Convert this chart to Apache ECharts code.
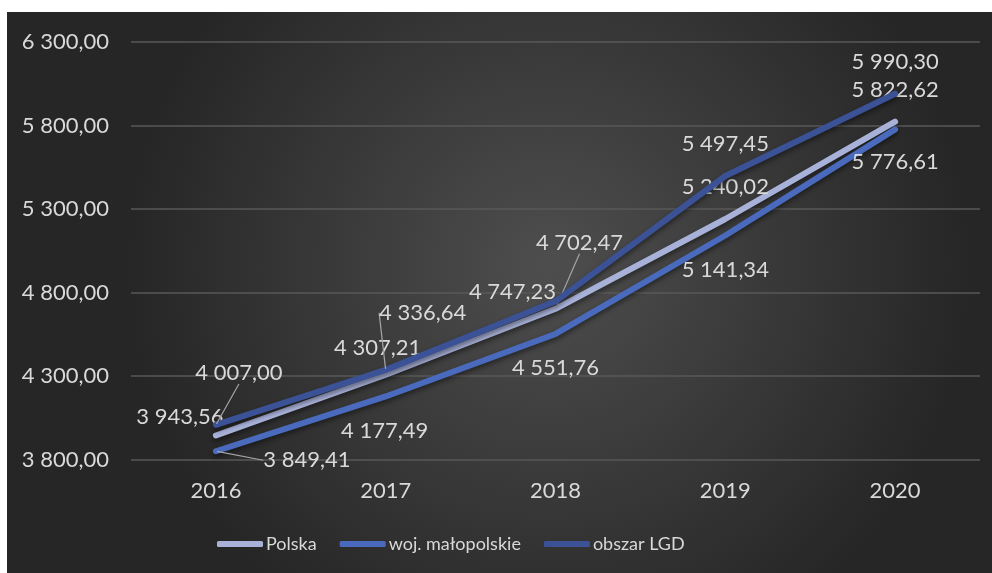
<!DOCTYPE html>
<html>
<head>
<meta charset="utf-8">
<script src="https://cdn.jsdelivr.net/npm/echarts@6/dist/echarts.min.js"></script>
<style>
html,body{margin:0;padding:0;background:#ffffff;width:992px;height:573px;overflow:hidden;}
#chart{position:absolute;left:7px;top:12px;width:985px;height:561px;}
</style>
</head>
<body>
<div id="chart"></div>
<script>
const categories = ['2016', '2017', '2018', '2019', '2020'];
const seriesNames = ['Polska', 'woj. małopolskie', 'obszar LGD'];
const polska = [3943.56, 4307.21, 4702.47, 5240.02, 5822.62];
const malopolskie = [3849.41, 4177.49, 4551.76, 5141.34, 5776.61];
const obszarLGD = [4007.00, 4336.64, 4747.23, 5497.45, 5990.30];
const yTicks = [3800, 4300, 4800, 5300, 5800, 6300];

// label offsets (px) relative to the point, per series
const labelOffsets = [
  [[-36, -19], [-8, -27], [24, -66], [0, -32], [0, -32]],
  [[91, 9], [-1, 34], [0, 34], [0, 34], [0, 33]],
  [[23, -52], [37, -57], [-43, -9], [0, -32], [0, -32]]
];
const leaders = [
  [false, false, true, false, false],
  [true, false, false, false, false],
  [true, true, false, false, false]
];
const colors = ['#a8b1d8', '#4a6bbd', '#3b5296'];

function fmt(v) {
  const parts = v.toFixed(2).split('.');
  const intPart = parts[0].replace(/\B(?=(\d{3})+(?!\d))/g, ' ');
  return intPart + ',' + parts[1];
}

const font = 'Lato';
const textColor = '#d9d9d9';

const allData = [polska, malopolskie, obszarLGD];
const series = allData.map((arr, si) => ({
  name: seriesNames[si],
  type: 'line',
  data: arr.map((v, i) => ({
    value: v,
    labelLine: { show: leaders[si][i] }
  })),
  symbol: 'circle',
  symbolSize: 2,
  showSymbol: true,
  itemStyle: { color: colors[si] },
  lineStyle: {
    color: colors[si], width: 6, cap: 'round', join: 'round',
    shadowColor: 'rgba(0,0,0,0.45)', shadowBlur: 5, shadowOffsetY: 3
  },
  label: {
    show: true,
    position: 'inside',
    formatter: p => fmt(p.value),
    color: textColor,
    fontFamily: font,
    fontSize: 22
  },
  labelLine: {
    show: false,
    lineStyle: { color: '#a6a6a6', width: 1.2 }
  },
  labelLayout: p => ({ dx: labelOffsets[si][p.dataIndex][0], dy: labelOffsets[si][p.dataIndex][1] }),
  z: 2 + si
}));

const chart = echarts.init(document.getElementById('chart'));
chart.setOption({
  backgroundColor: {
    type: 'radial', x: 0.55, y: 0.45, r: 0.75,
    colorStops: [
      { offset: 0, color: '#4e4e4e' },
      { offset: 1, color: '#262626' }
    ]
  },
  animation: false,
  grid: { left: 124, right: 12, top: 30, bottom: 113.5, containLabel: false },
  xAxis: {
    type: 'category',
    data: categories,
    boundaryGap: true,
    axisLine: { show: false },
    axisTick: { show: false },
    axisLabel: { color: textColor, fontFamily: font, fontSize: 22, margin: 20 }
  },
  yAxis: {
    type: 'value',
    min: yTicks[0],
    max: yTicks[yTicks.length - 1],
    interval: 500,
    axisLine: { show: false },
    axisTick: { show: false },
    splitLine: { lineStyle: { color: '#585858', width: 1.5 } },
    axisLabel: { color: textColor, fontFamily: font, fontSize: 22, margin: 22, formatter: v => fmt(v) }
  },
  legend: {
    data: seriesNames,
    left: 205,
    bottom: 15,
    icon: 'roundRect',
    itemWidth: 46,
    itemHeight: 6,
    itemGap: 23,
    textStyle: { color: textColor, fontFamily: font, fontSize: 18, padding: [0, 0, 0, -2] }
  },
  series: series
});
</script>
</body>
</html>
